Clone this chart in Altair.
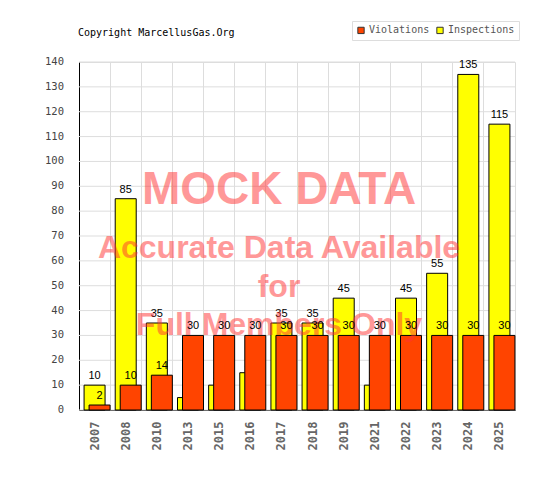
import pandas as pd
import altair as alt

# data
years = ["2007", "2008", "2010", "2013", "2015", "2016", "2017",
         "2018", "2019", "2021", "2022", "2023", "2024", "2025"]
inspections = [10, 85, 35, 5, 10, 15, 35, 35, 45, 10, 45, 55, 135, 115]
violations = [2, 10, 14, 30, 30, 30, 30, 30, 30, 30, 30, 30, 30, 30]

series = ["Violations", "Inspections"]
series_colors = ["#ff4400", "#ffff00"]
y_ticks = [0, 10, 20, 30, 40, 50, 60, 70, 80, 90, 100, 110, 120, 130, 140]

title_text = "Copyright MarcellusGas.Org"
watermark_lines = ["MOCK DATA", "Accurate Data Available", "for", "Full Members Only"]
watermark_sizes = [46, 32, 32, 32]
watermark_baselines = [142, 196, 235, 273]

df = pd.DataFrame({"year": years, "inspections": inspections, "violations": violations})
df_ticks = pd.DataFrame({"tick": y_ticks})

mono = "DejaVu Sans Mono"
sans = "Liberation Sans"

color_scale = alt.Scale(domain=series, range=series_colors)
y_scale = alt.Scale(domain=[0, 140], nice=False)

y_axis = alt.Axis(title=None, labels=False, ticks=False, grid=False, domainColor="black")

base = alt.Chart(df).encode(
    x=alt.X(
        "year:N",
        sort=years,
        scale=alt.Scale(paddingInner=0, paddingOuter=0),
        axis=alt.Axis(
            title=None,
            labelAngle=-90,
            labelFont=mono,
            labelFontSize=12,
            labelFontWeight="bold",
            labelColor="#666666",
            labelPadding=11,
            ticks=False,
            grid=True,
            bandPosition=0,
            gridColor="#dddddd",
            domainColor="black",
        ),
    )
)


def y_enc(field):
    return alt.Y(f"{field}:Q", scale=y_scale, axis=y_axis)


# horizontal grid and y labels every 10
grid = alt.Chart(df_ticks).mark_rule(color="#dddddd", strokeWidth=1).encode(
    y=alt.Y("tick:Q", scale=y_scale, axis=y_axis)
)
y_labels = alt.Chart(df_ticks).mark_text(
    font=mono, fontSize=10.5, color="#444444", align="right", baseline="middle"
).encode(
    x=alt.value(-15),
    y=alt.Y("tick:Q", scale=y_scale, axis=y_axis),
    text="tick:Q",
)

legend = alt.Legend(
    title=None,
    orient="none",
    legendX=273,
    legendY=-41,
    direction="horizontal",
    symbolType="square",
    symbolSize=40,
    symbolStrokeColor="#333333",
    symbolStrokeWidth=1,
    symbolOpacity=1,
    labelFont=mono,
    labelFontSize=10,
    labelColor="#555555",
    strokeColor="#dddddd",
    padding=4,
    columnPadding=4,
    labelOffset=3,
)

insp_bars = base.mark_bar(width=21, stroke="black", strokeWidth=1).transform_calculate(
    series="'Inspections'"
).encode(
    y=y_enc("inspections"),
    color=alt.Color("series:N", scale=color_scale, legend=legend),
)
insp_text = base.mark_text(baseline="bottom", dy=-4, font=sans, fontSize=11, color="black").encode(
    y=y_enc("inspections"), text="inspections:Q"
)
viol_bars = base.mark_bar(width=21, xOffset=5, stroke="black", strokeWidth=1).transform_calculate(
    series="'Violations'"
).encode(
    y=y_enc("violations"),
    color=alt.Color("series:N", scale=color_scale, legend=legend),
)
viol_text = base.mark_text(baseline="bottom", dy=-4, dx=5, font=sans, fontSize=11, color="black").encode(
    y=y_enc("violations"), text="violations:Q"
)

# "mock data" watermark across the plot
watermark = [
    alt.Chart(pd.DataFrame({"line": [txt]}))
    .mark_text(font=sans, fontWeight="bold", fontSize=size, color="#ff3333", opacity=0.5,
               baseline="alphabetic", align="center")
    .encode(x=alt.value(200), y=alt.value(yb), text="line:N")
    for txt, size, yb in zip(watermark_lines, watermark_sizes, watermark_baselines)
]

# copyright line above the plot
title = (
    alt.Chart(pd.DataFrame({"t": [title_text]}))
    .mark_text(font=mono, fontSize=10, color="black", align="left", baseline="middle")
    .encode(x=alt.value(-1), y=alt.value(-29), text="t:N")
)

chart = (
    alt.layer(grid, y_labels, insp_bars, insp_text, viol_bars, *watermark, viol_text, title)
    .properties(
        width=436,
        height=348,
        autosize=alt.AutoSizeParams(type="none"),
        padding={"left": 71, "top": 54, "right": 37, "bottom": 82},
    )
    .configure_view(stroke="#dddddd")
)

chart.save("out.html", embed_options={"renderer": "svg", "actions": False})
